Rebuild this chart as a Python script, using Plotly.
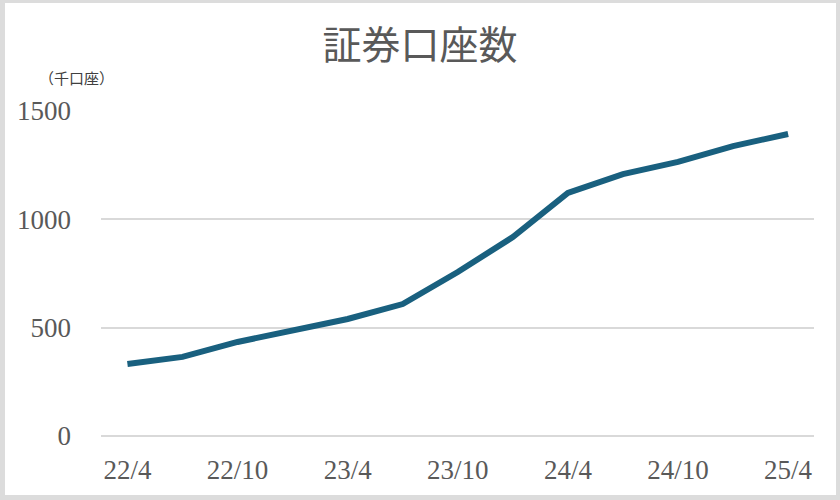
import plotly.graph_objects as go

# Data (thousand accounts), quarterly
periods = ["22/4", "22/7", "22/10", "23/1", "23/4", "23/7", "23/10",
           "24/1", "24/4", "24/7", "24/10", "25/1", "25/4"]
accounts = [332, 365, 434, 489, 540, 609, 757, 918, 1122, 1209, 1265, 1338, 1394]
tick_labels = ["22/4", "22/10", "23/4", "23/10", "24/4", "24/10", "25/4"]
y_ticks = [0, 500, 1000, 1500]

W, H = 840, 500
L, R, T, B = 101, 26, 111, 64
pw, ph = W - L - R, H - T - B

def px_x(px):
    return (px - L) / pw

def px_y(py):
    return (H - B - py) / ph

fig = go.Figure()
fig.add_trace(go.Scatter(
    x=periods, y=accounts, mode="lines",
    line=dict(color="#19607f", width=6),
    hoverinfo="skip"
))

fig.update_layout(
    width=W, height=H,
    margin=dict(l=L, r=R, t=T, b=B),
    paper_bgcolor="#dcdcdc",
    plot_bgcolor="rgba(0,0,0,0)",
    showlegend=False,
    title=dict(text="証券口座数", x=0.5, xanchor="center", xref="container",
               y=1 - 45 / H, yanchor="middle", yref="container",
               font=dict(family="Noto Sans CJK JP", size=39, color="#595959")),
    shapes=[dict(type="rect", xref="paper", yref="paper",
                 x0=px_x(5), x1=px_x(836), y0=px_y(495), y1=px_y(3),
                 fillcolor="white", line=dict(width=0), layer="below")],
    annotations=[dict(text="（千口座）", xref="paper", yref="paper",
                      x=px_x(76), y=px_y(77), xanchor="center", yanchor="middle",
                      showarrow=False,
                      font=dict(family="Noto Sans CJK JP", size=15, color="#404040"))],
    xaxis=dict(
        type="category", range=[-0.48, 12.47],
        tickmode="array", tickvals=tick_labels, ticktext=tick_labels,
        showgrid=False, zeroline=False, showline=False, ticks="",
        tickfont=dict(family="Liberation Serif", size=27, color="#595959"),
        ticklabelstandoff=15,
    ),
    yaxis=dict(
        range=[0, 1500], tickvals=y_ticks,
        showgrid=True, gridcolor="#d9d9d9", gridwidth=1.5,
        zeroline=True, zerolinecolor="#d9d9d9", zerolinewidth=1.5,
        showline=False, ticks="",
        tickfont=dict(family="Liberation Serif", size=27, color="#595959"),
        ticklabelstandoff=29,
    ),
)

fig.write_html("out.html", config={"displayModeBar": False},
               post_script="document.body.style.margin='0';")
